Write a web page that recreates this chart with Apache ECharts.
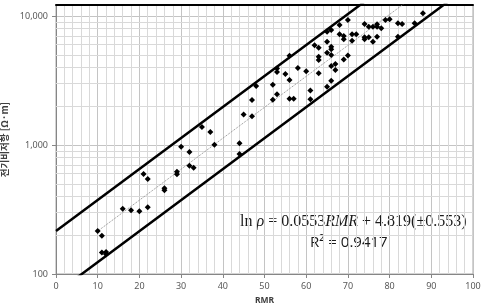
<!DOCTYPE html>
<html>
<head>
<meta charset="utf-8">
<script src="https://cdn.jsdelivr.net/npm/echarts@6/dist/echarts.min.js"></script>
<style>
	html, body { margin: 0; padding: 0; background: #fff; }
	#chart { width: 481px; height: 305px; }
</style>
</head>
<body>
<div id="chart"></div>
<script>
'use strict';

// RMR vs resistivity
var rmr = [10, 11, 11, 12, 12, 16, 18, 20, 21, 22, 22, 26, 26, 29, 29, 30, 32, 32, 33, 35,
	37, 38, 44, 44, 45, 47, 47, 48, 52, 52, 53, 53, 53, 55, 56, 56, 56, 57, 58, 60,
	61, 61, 62, 63, 63, 63, 63, 65, 65, 65, 65, 66, 66, 66, 66, 66, 66, 67, 67, 68,
	68, 69, 69, 69, 70, 70, 71, 71, 72, 74, 74, 74, 75, 75, 76, 76, 77, 77, 77, 78,
	79, 80, 82, 82, 83, 86, 88];
var resistivity = [215, 198, 147, 148, 142, 321, 312, 306, 596, 545, 329, 462, 445, 621, 593, 970, 883, 692, 667, 1380,
	1260, 1005, 1030, 851, 1720, 1670, 2230, 2870, 2930, 2245, 2470, 3910, 3680, 3550, 2280, 3190, 4920, 2280, 3950, 3730,
	2650, 2260, 5930, 5680, 4840, 4560, 3600, 7550, 6320, 5200, 2830, 7780, 5780, 5520, 4990, 3150, 4100, 4250, 3810, 8510,
	7210, 7000, 6590, 4610, 9310, 4950, 7210, 6440, 7210, 8670, 6840, 6590, 6840, 8260, 8260, 6320, 8630, 8260, 6920, 8030,
	9310, 9420, 8780, 6920, 8670, 8780, 10500];

// fitted line and the +/- band (end points)
var fitLine = [[10, 215], [88, 16000]];
var upperLine = [[0, 215], [100, 54500]];
var lowerLine = [[0, 71], [100, 18000]];

var yTicks = [100, 1000, 10000];
var yMinor = [200, 300, 400, 500, 600, 700, 800, 900, 2000, 3000, 4000, 5000, 6000, 7000, 8000, 9000];
var yTop = 12170;

var points = rmr.map(function(x, i) { return [x, resistivity[i]]; });
var minorLines = yMinor.map(function(v) {
	return [{ xAxis: 0, yAxis: v }, { xAxis: 100, yAxis: v }];
});

var myChart = echarts.init(document.getElementById('chart'));
var option = {
	animation: false,
	backgroundColor: '#fff',
	grid: {
		left: 56, right: 8, top: 5, bottom: 31,
		outerBoundsMode: 'none', containLabel: false,
		show: true, borderColor: '#a6a6a6', borderWidth: 1
	},
	xAxis: [{
		type: 'value', min: 0, max: 100, interval: 10,
		name: 'RMR', nameLocation: 'middle', nameGap: 19,
		nameTextStyle: { fontFamily: 'Noto Sans', fontWeight: 'bold', fontSize: 8.5, color: '#404040' },
		axisLine: { lineStyle: { color: '#868686', width: 1 } },
		axisTick: { show: true, length: 4, lineStyle: { color: '#868686' } },
		axisLabel: { fontFamily: 'Noto Sans', fontSize: 9, color: '#595959', margin: 8 },
		splitLine: { show: true, lineStyle: { color: '#c4c4c4', width: 1 } },
		minorTick: { show: false, splitNumber: 5 },
		minorSplitLine: { show: true, lineStyle: { color: '#d9d9d9', width: 1 } }
	}, {
		type: 'value', min: 0, max: 100, position: 'top',
		axisLine: { show: true, lineStyle: { color: '#000', width: 2 } },
		axisTick: { show: false }, axisLabel: { show: false }, splitLine: { show: false }
	}],
	yAxis: {
		type: 'log', logBase: 10, min: 100, max: yTop,
		name: '전기비저항 [Ω·m]', nameLocation: 'middle', nameGap: 40,
		nameTextStyle: { fontFamily: 'Noto Sans CJK KR', fontWeight: 'bold', fontSize: 9.5, color: '#404040' },
		axisLine: { show: true, lineStyle: { color: '#868686', width: 1 } },
		axisTick: { show: true, length: 4, customValues: yTicks, lineStyle: { color: '#868686' } },
		axisLabel: {
			customValues: yTicks, fontFamily: 'Noto Sans', fontSize: 9, color: '#595959', margin: 8,
			formatter: function(v) { return v.toLocaleString('en-US'); }
		},
		splitLine: { show: true, lineStyle: { color: '#c4c4c4', width: 1 } }
	},
	series: [{
		type: 'line', data: [], silent: true, z: 1,
		markLine: {
			silent: true, symbol: 'none', label: { show: false }, z: 1,
			lineStyle: { color: '#d9d9d9', width: 1, type: 'solid' },
			data: minorLines
		}
	}, {
		type: 'line', data: fitLine, showSymbol: false, silent: true, clip: true, z: 3,
		lineStyle: { color: '#8c8c8c', width: 1, type: 'dotted' }
	}, {
		type: 'line', data: upperLine, showSymbol: false, silent: true, clip: true, z: 3,
		lineStyle: { color: '#000', width: 2.5 }
	}, {
		type: 'line', data: lowerLine, showSymbol: false, silent: true, clip: true, z: 3,
		lineStyle: { color: '#000', width: 2.5 }
	}, {
		type: 'scatter', data: points, symbol: 'diamond', symbolSize: 6, z: 4,
		itemStyle: { color: '#000', opacity: 1 }
	}],
	graphic: [{
		type: 'text', left: 240, top: 214,
		style: {
			text: '{n|ln }{i|ρ}{n| = 0.0553}{i|RMR}{n| + 4.819(±0.553)}',
			rich: {
				n: { fontFamily: 'Liberation Serif', fontSize: 16, fill: '#1a1a1a' },
				i: { fontFamily: 'Liberation Serif', fontSize: 16, fontStyle: 'italic', fill: '#1a1a1a' }
			}
		}
	}, {
		type: 'text', left: 310, top: 235,
		style: { text: 'R² = 0.9417', fontFamily: 'Open Sans', fontSize: 15, fill: '#1a1a1a' }
	}]
};
myChart.setOption(option);
</script>
</body>
</html>
